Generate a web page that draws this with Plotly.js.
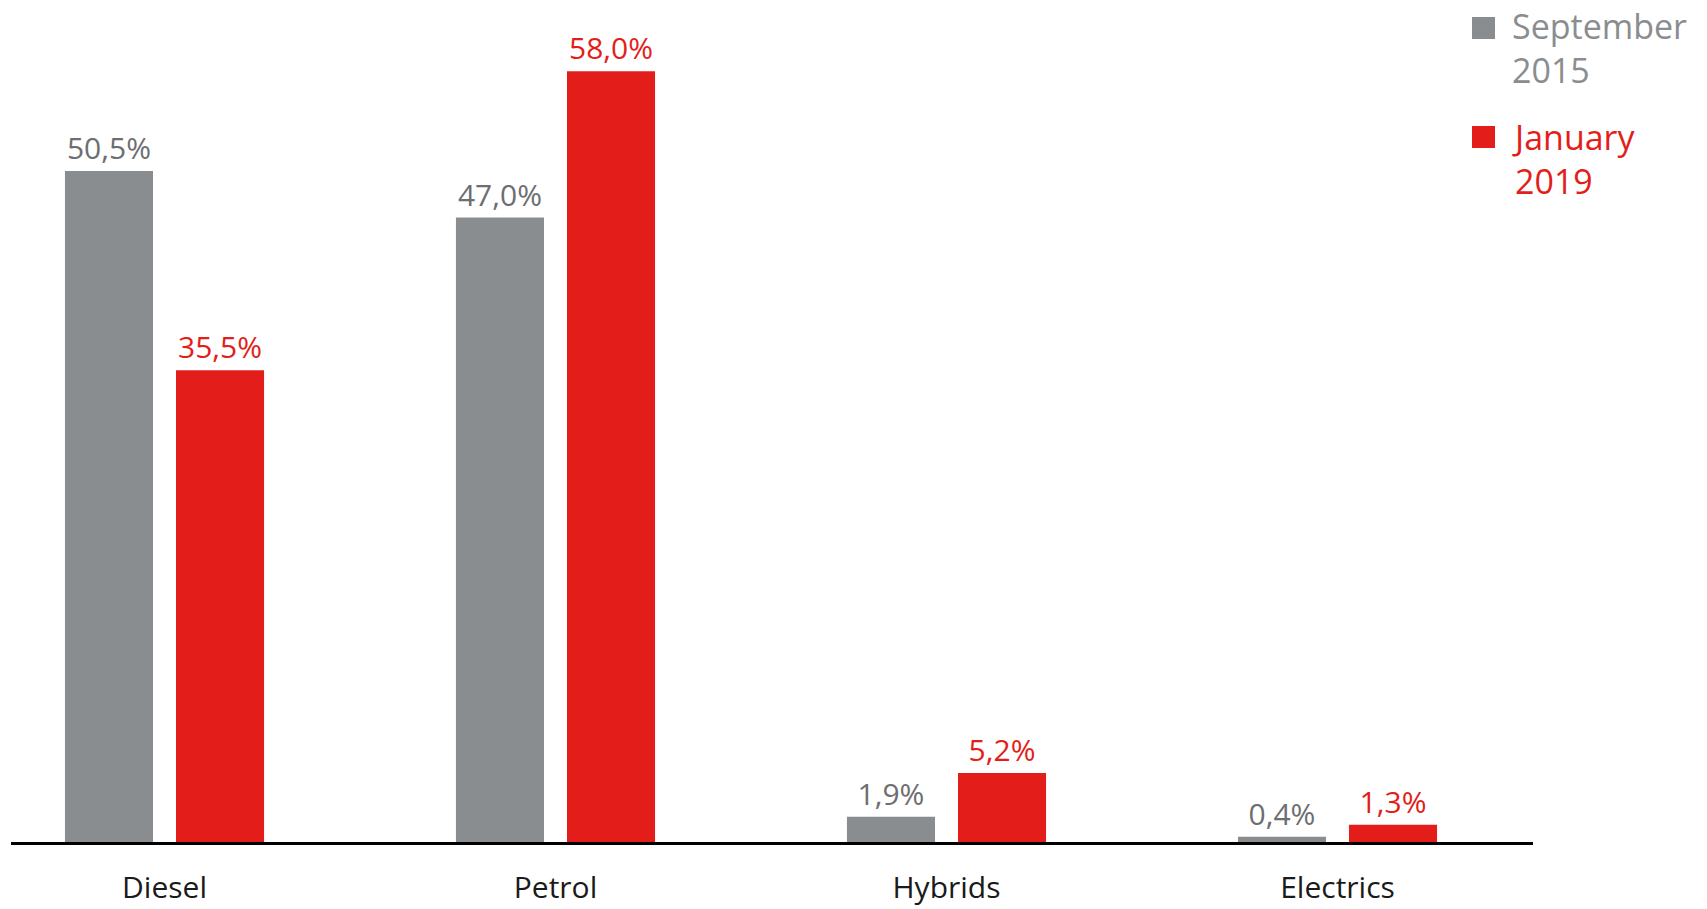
<!DOCTYPE html>
<html>
<head>
<meta charset="utf-8">
<script src="https://cdn.plot.ly/plotly-3.0.1.min.js"></script>
<style>html,body{margin:0;padding:0;background:#fff;}#chart{width:1707px;height:909px;}</style>
</head>
<body>
<div id="chart"></div>
<script>
// ---- data ----
const categories = ['Diesel', 'Petrol', 'Hybrids', 'Electrics'];
const seriesNames = ['September<br>2015', 'January<br>2019'];
const sep2015 = [50.5, 47.0, 1.9, 0.4];
const jan2019 = [35.5, 58.0, 5.2, 1.3];

// ---- styles ----
const GRAY = '#8a8d90', GRAY_TXT = '#6d6e71', GRAY_LEG = '#8a8d90';
const RED = '#e31e1a';
const FONT = '"Open Sans", Roboto, sans-serif';
const W = 1707, H = 909, ML = 11, MR = 174, MT = 0, MB = 67;
const PW = W - ML - MR, PH = H - MT - MB;
const px = v => (v - ML) / PW;
const py = v => 1 - (v - MT) / PH;

const traces = [
  {type: 'bar', name: seriesNames[0], x: categories, y: sep2015,
   marker: {color: GRAY}, texttemplate: '%{y:.1f}%', textposition: 'outside',
   outsidetextfont: {family: FONT, size: 30, color: GRAY_TXT}, cliponaxis: false, hoverinfo: 'skip'},
  {type: 'bar', name: seriesNames[1], x: categories, y: jan2019,
   marker: {color: RED}, texttemplate: '%{y:.1f}%', textposition: 'outside',
   outsidetextfont: {family: FONT, size: 30, color: RED}, cliponaxis: false, hoverinfo: 'skip'}
];

const layout = {
  width: W, height: H,
  margin: {l: ML, r: MR, t: MT, b: MB, pad: 0},
  paper_bgcolor: '#fff', plot_bgcolor: '#fff',
  separators: ',.',
  barmode: 'group', bargap: 0.432, bargroupgap: 0.207,
  showlegend: false,
  font: {family: FONT},
  xaxis: {
    type: 'category', range: [-0.3926, 3.5], showgrid: false, zeroline: false,
    showline: true, linecolor: '#000', linewidth: 3, ticks: '',
    tickfont: {family: FONT, size: 30, color: '#1a1a1a'}, ticklabelstandoff: 17,
    fixedrange: true
  },
  yaxis: {range: [0, 63.37], visible: false, showgrid: false, zeroline: false, fixedrange: true},
  shapes: [
    {type: 'rect', xref: 'paper', yref: 'paper', x0: px(1472), x1: px(1495), y0: py(39), y1: py(17),
     fillcolor: GRAY, line: {width: 0}},
    {type: 'rect', xref: 'paper', yref: 'paper', x0: px(1472), x1: px(1495), y0: py(148), y1: py(126),
     fillcolor: RED, line: {width: 0}}
  ],
  annotations: [
    {xref: 'paper', yref: 'paper', x: px(1510), y: py(1), xanchor: 'left', yanchor: 'top', align: 'left',
     text: seriesNames[0], showarrow: false, font: {family: FONT, size: 34, color: GRAY_LEG}},
    {xref: 'paper', yref: 'paper', x: px(1510), y: py(112), xanchor: 'left', yanchor: 'top', align: 'left',
     text: seriesNames[1], showarrow: false, font: {family: FONT, size: 34, color: RED}}
  ]
};

Plotly.newPlot('chart', traces, layout, {displayModeBar: false, staticPlot: true});
</script>
</body>
</html>
